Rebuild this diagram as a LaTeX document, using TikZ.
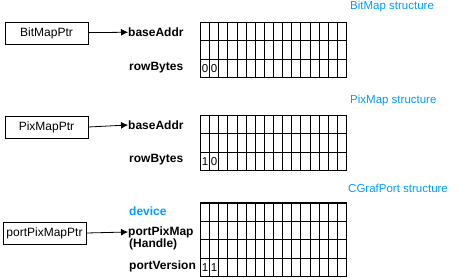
\documentclass[tikz,border=0pt]{standalone}
\usepackage{fontspec}
\setmainfont{Liberation Sans}
\usepackage{tikz}
\usetikzlibrary{arrows.meta,positioning}
\definecolor{qdblue}{HTML}{009CFF}
\definecolor{ink}{HTML}{000000}
\tikzset{
  ptrbox/.style ={draw=ink,line width=0.8pt,minimum width=83pt,minimum height=22pt,
                  inner sep=0pt,font=\fontsize{12}{12}\selectfont},
  field/.style  ={anchor=west,inner sep=0pt,align=left,
                  font=\fontsize{12}{13}\selectfont\bfseries},
  title/.style  ={anchor=west,inner sep=0pt,text=qdblue,
                  font=\fontsize{11.5}{12}\selectfont},
  cell/.style   ={inner sep=0pt,font=\fontsize{11.5}{11.5}\selectfont},
  ptr/.style    ={-{Latex[length=7pt,width=7pt]},line width=0.8pt,draw=ink}
}
\begin{document}
\begin{tikzpicture}[x=1pt,y=-1pt]
    \useasboundingbox (0,0) rectangle (464,278);
    % BitMap
    \node[title] (bmtitle) at (350,7) {BitMap structure};
    \node[ptrbox] (bmptr) at (46.5,33) {BitMapPtr};
    \node[field] (bmbase) at (128,32) {baseAddr};
    \node[field] (bmrow) at (129,68) {rowBytes};
    \draw[ptr] (bmptr) -- (bmbase);
    \foreach \i in {1,...,15} \draw[line width=0.8pt] (200.5+9.125*\i,22.5) -- ++(0,55);
    \foreach \j in {1,2} \draw[line width=0.8pt] (200.5,22.5+18.33*\j) -- ++(146,0);
    \draw[line width=1.6pt] (200.5,22.5) rectangle (346.5,77.5);
    \node[cell] (bmc1) at (205.06,68.3) {0};
    \node[cell] (bmc2) at (214.19,68.3) {0};
    % PixMap
    \node[title] (pmtitle) at (350,101) {PixMap structure};
    \node[ptrbox] (pmptr) at (46.5,127) {PixMapPtr};
    \node[field] (pmbase) at (128,125) {baseAddr};
    \node[field] (pmrow) at (129,160) {rowBytes};
    \draw[ptr] (pmptr.east) -- (pmbase.west);
    \foreach \i in {1,...,15} \draw[line width=0.8pt] (200.5+9.125*\i,115.5) -- ++(0,55);
    \foreach \j in {1,2} \draw[line width=0.8pt] (200.5,115.5+18.33*\j) -- ++(146,0);
    \draw[line width=1.6pt] (200.5,115.5) rectangle (346.5,170.5);
    \node[cell] (pmc1) at (205.06,161.3) {1};
    \node[cell] (pmc2) at (214.19,161.3) {0};
    % CGrafPort
    \node[title] (cgtitle) at (348,188) {CGrafPort structure};
    \node[field,text=qdblue] (cgdev) at (129,211) {device};
    \node[ptrbox,minimum width=83pt] (cgptr) at (44.5,233) {portPixMapPtr};
    \node[field] (cgpix) at (128,232) {portPixMap};
    \node[field] (cghandle) at (129,244) {(Handle)};
    \node[field] (cgver) at (129,266) {portVersion};
    \draw[ptr] (cgptr.east) -- (cgpix.west);
    \foreach \i in {1,...,15} \draw[line width=0.8pt] (200.5+9.125*\i,203) -- ++(0,73.5);
    \foreach \j in {1,2,3} \draw[line width=0.8pt] (200.5,203+18.375*\j) -- ++(146,0);
    \draw[line width=1.6pt] (200.5,203) rectangle (346.5,276.5);
    \node[cell] (cgc1) at (205.06,267.3) {1};
    \node[cell] (cgc2) at (214.19,267.3) {1};
\end{tikzpicture}
\end{document}
